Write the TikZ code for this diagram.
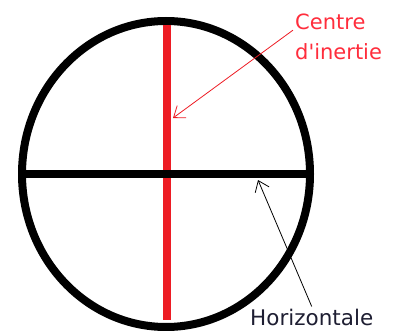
\documentclass[tikz,border=0pt]{standalone}
\usepackage{fontspec}
\setmainfont{DejaVu Sans}
\usetikzlibrary{arrows.meta,positioning}
\definecolor{paintred}{RGB}{237,28,36}
\definecolor{labelred}{RGB}{255,45,60}
\definecolor{labeldark}{RGB}{30,30,50}

\begin{document}
\begin{tikzpicture}[x=1pt,y=-1pt,
    thickline/.style={line width=8pt},
    pointer/.style={-{Straight Barb[length=10pt,width=15pt]},line width=0.8pt},
    every node/.style={font=\fontsize{21}{30}\selectfont,inner sep=0pt}]
    \useasboundingbox (0,0) rectangle (393,331);
    % body outline and axes
    \draw[thickline] (166,174) ellipse [x radius=144pt,y radius=153pt];
    \draw[thickline,paintred] (167,25) -- (167,320);
    \draw[thickline] (26,174) -- (306,174);
    % labels
    \node[labelred,align=left,anchor=north west] (centreLbl) at (295,14) {Centre\\d\textquotesingle inertie};
    \node[labeldark,anchor=base west,font=\fontsize{21.5}{30}\selectfont] (horizLbl) at (250,325) {Horizontale};
    \coordinate (redTip) at (173,118);
    \coordinate (blackTip) at (258,180);
    % pointers
    \draw[pointer,paintred] ([xshift=-2pt,yshift=7pt]centreLbl.west) -- (redTip);
    \draw[pointer,black] ([yshift=2pt]horizLbl.north) -- (blackTip);
\end{tikzpicture}
\end{document}
